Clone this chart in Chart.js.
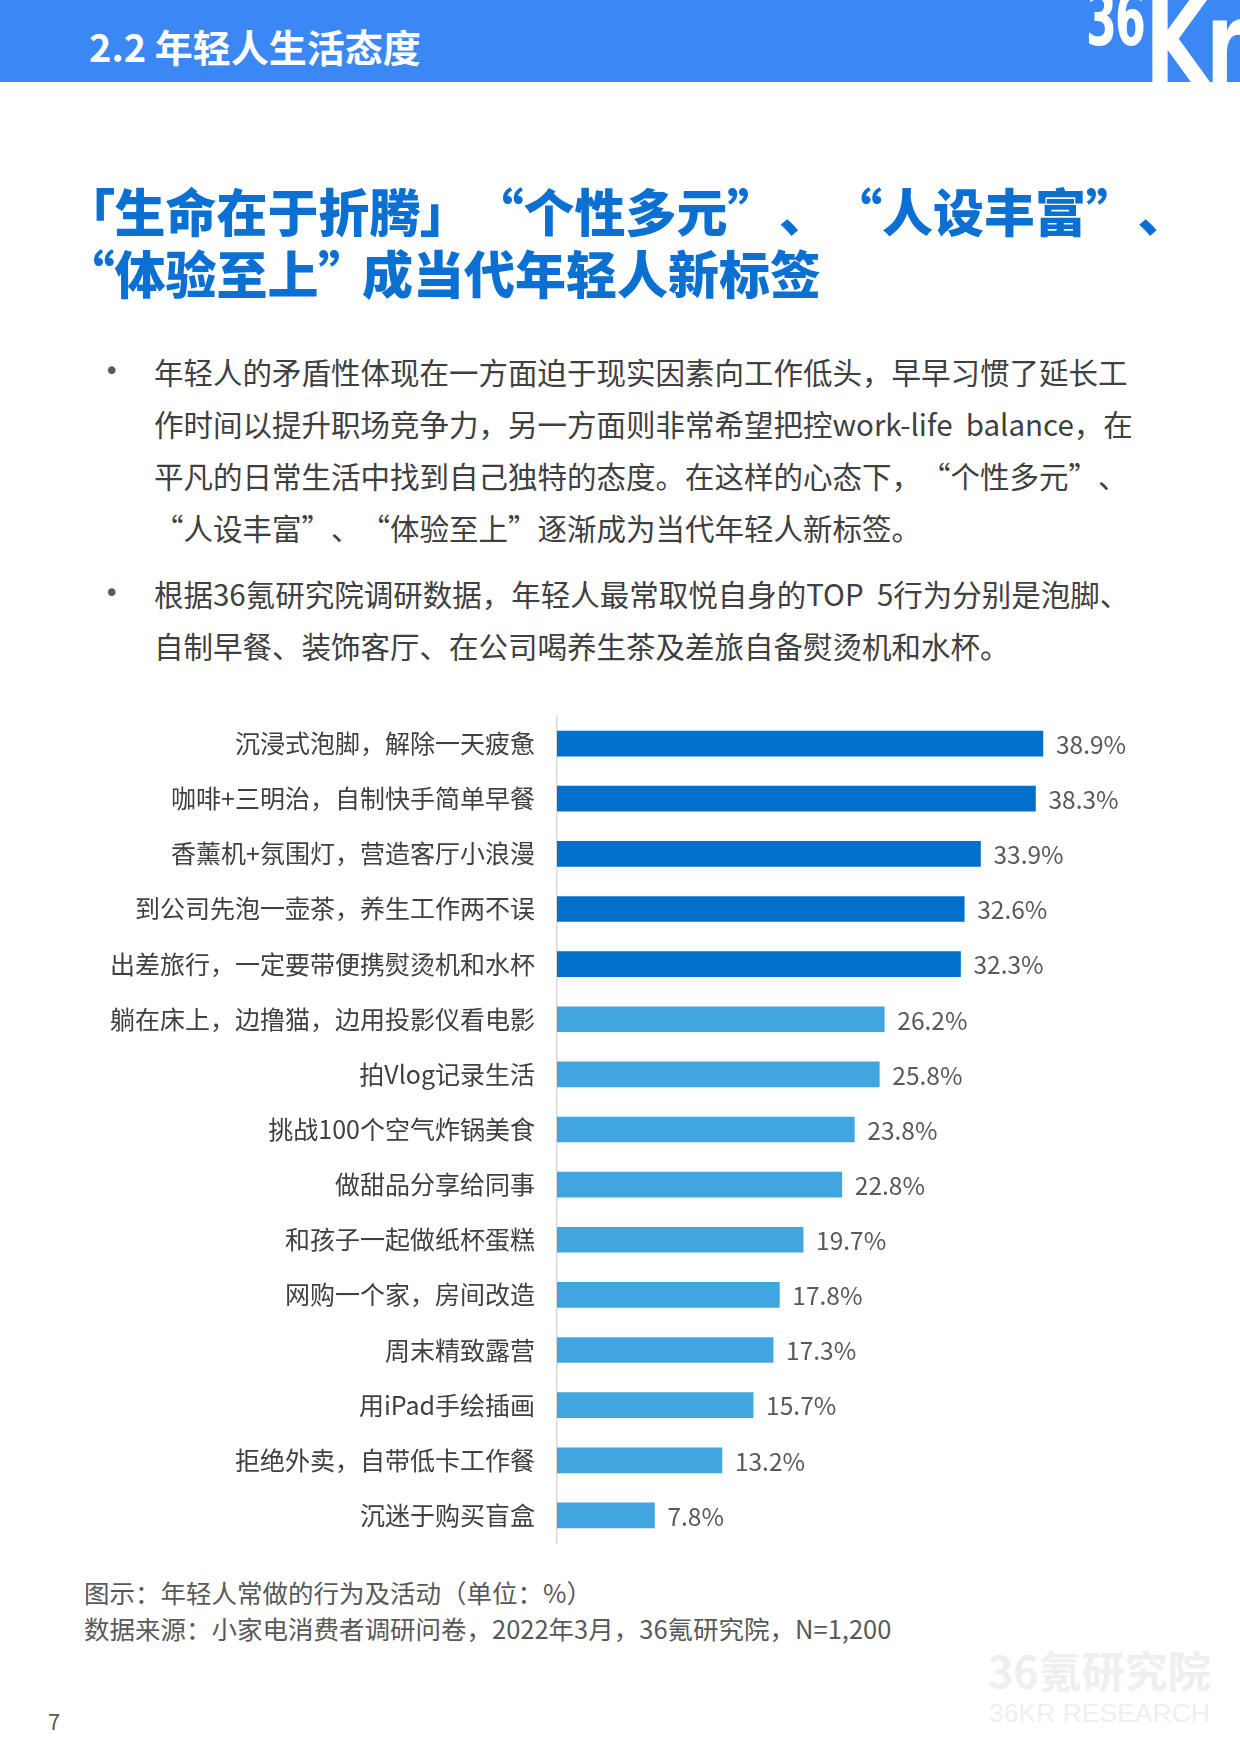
<!DOCTYPE html>
<html lang="zh-CN">
<head>
<meta charset="utf-8">
<script src="https://cdn.jsdelivr.net/npm/chart.js@4.4.1/dist/chart.umd.min.js"></script>
<style>
  html, body { margin: 0; padding: 0; background: #fff; }
  body { width: 1240px; height: 1754px; position: relative; overflow: hidden;
         font-family: "Noto Sans CJK SC", "Noto Sans", sans-serif; }
  .band { position: absolute; left: 0; top: 0; width: 1240px; height: 82px; background: #3b88f5; overflow: hidden; }
  .band .sec { position: absolute; left: 89px; top: 27px; font-size: 38px; font-weight: 700; color: #fff; line-height: 1; }
  .logo36 { position: absolute; left: 1086px; top: -18px; font-family: "DejaVu Sans"; font-size: 74px; font-weight: 700; color: #fff; line-height: 1;
            transform: scaleX(0.6); transform-origin: left top; letter-spacing: -3px; }
  .logoK { position: absolute; left: 1145px; top: -13px; font-family: "DejaVu Sans"; font-size: 112px; font-weight: 700; color: #fff; line-height: 1;
           transform: scaleX(0.72); transform-origin: left top; letter-spacing: -2px; }
  .title { position: absolute; left: 89px; top: 179px; font-size: 51px; font-weight: 900; color: #0b70d2; line-height: 62px; white-space: nowrap;
           font-feature-settings: "palt"; }
  .title i, .bullets i { display: inline-block; }
  .bullets { position: absolute; left: 154px; top: 345px; font-size: 29.5px; color: #404040; line-height: 52px; white-space: nowrap;
             text-spacing-trim: space-all; }
  .bullets p { margin: 0 0 14px 0; position: relative; }
  .bullets p::before { content: "•"; position: absolute; left: -50px; top: 0; font-family: "DejaVu Sans"; font-size: 26px; color: #595959; }
  #wrap { position: absolute; left: 0; top: 687px; width: 1240px; height: 885px; }
  .caption { position: absolute; left: 84px; top: 1574px; font-size: 25.5px; color: #595959; line-height: 36px; white-space: nowrap; }
  .wm1 { position: absolute; left: 988px; top: 1648px; font-size: 43px; font-weight: 700; color: #efefef; line-height: 1; }
  .wm2 { position: absolute; left: 989px; top: 1700px; font-size: 26.5px; color: #efefef; line-height: 1; font-family: "Liberation Sans"; }
  .pg { position: absolute; left: 48px; top: 1709px; font-size: 22px; color: #595959; line-height: 1; }
</style>
</head>
<body>
<div class="band">
  <div class="sec">2.2 年轻人生活态度</div>
  <div class="logo36">36</div>
  <div class="logoK">Kr</div>
</div>

<div class="title">「生命在于折腾」<i style="width:52px"></i>“个性多元”<i style="width:26px"></i>、<i style="width:52px"></i>“人设丰富”<i style="width:26px"></i>、<br>“体验至上”<i style="width:18px"></i>成当代年轻人新标签</div>

<div class="bullets">
  <p>年轻人的矛盾性体现在一方面迫于现实因素向工作低头，早早习惯了延长工<br>作时间以提升职场竞争力，另一方面则非常希望把控work-life&nbsp; balance，在<br>平凡的日常生活中找到自己独特的态度。在这样的心态下，<i style="width:0"></i>“个性多元”<i style="width:0"></i>、<br>“人设丰富”<i style="width:0"></i>、<i style="width:0"></i>“体验至上”逐渐成为当代年轻人新标签。</p>
  <p>根据36氪研究院调研数据，年轻人最常取悦自身的TOP&nbsp; 5行为分别是泡脚、<br>自制早餐、装饰客厅、在公司喝养生茶及差旅自备熨烫机和水杯。</p>
</div>

<div id="wrap"><canvas id="behaviorChart"></canvas></div>

<div class="caption">图示：年轻人常做的行为及活动（单位：%）<br>数据来源：小家电消费者调研问卷，2022年3月，36氪研究院，N=1,200</div>
<div class="wm1">36氪研究院</div>
<div class="wm2">36KR RESEARCH</div>
<div class="pg">7</div>

<script>
const categories = [
  "沉浸式泡脚，解除一天疲惫",
  "咖啡+三明治，自制快手简单早餐",
  "香薰机+氛围灯，营造客厅小浪漫",
  "到公司先泡一壶茶，养生工作两不误",
  "出差旅行，一定要带便携熨烫机和水杯",
  "躺在床上，边撸猫，边用投影仪看电影",
  "拍Vlog记录生活",
  "挑战100个空气炸锅美食",
  "做甜品分享给同事",
  "和孩子一起做纸杯蛋糕",
  "网购一个家，房间改造",
  "周末精致露营",
  "用iPad手绘插画",
  "拒绝外卖，自带低卡工作餐",
  "沉迷于购买盲盒",
];
const shares = [38.9, 38.3, 33.9, 32.6, 32.3, 26.2, 25.8, 23.8, 22.8, 19.7, 17.8, 17.3, 15.7, 13.2, 7.8];
const topCount = 5;

(function () {
  if (typeof Chart === "undefined") return;

  const barColors = shares.map((v, i) => (i < topCount ? "#0070cc" : "#41a5e0"));

  const valueLabels = {
    id: "valueLabels",
    afterDatasetsDraw(chart) {
      const ctx = chart.ctx;
      const meta = chart.getDatasetMeta(0);
      ctx.save();
      ctx.font = '24.5px "Noto Sans CJK SC"';
      ctx.fillStyle = "#595959";
      ctx.textBaseline = "middle";
      ctx.textAlign = "left";
      meta.data.forEach((bar, i) => {
        ctx.fillText(shares[i].toFixed(1) + "%", bar.x + 13, bar.y + 1);
      });
      ctx.restore();
    },
  };

  new Chart(document.getElementById("behaviorChart"), {
    type: "bar",
    data: {
      labels: categories,
      datasets: [
        {
          data: shares,
          backgroundColor: barColors,
          borderWidth: 0,
          barThickness: 25,
        },
      ],
    },
    options: {
      indexAxis: "y",
      responsive: true,
      maintainAspectRatio: false,
      animation: false,
      layout: { padding: { top: 0, bottom: 0, right: 58.4, left: 0 } },
      plugins: { legend: { display: false }, tooltip: { enabled: false } },
      scales: {
        x: { display: false, min: 0, max: 50 },
        y: {
          afterFit(scale) { scale.width = 557; },
          grid: { display: false },
          border: { display: true, color: "#d9d9d9", width: 1.5 },
          ticks: {
            padding: 14,
            color: "#404040",
            font: { family: "Noto Sans CJK SC", size: 25 },
          },
        },
      },
    },
    plugins: [valueLabels],
  });
})();
</script>
</body>
</html>
